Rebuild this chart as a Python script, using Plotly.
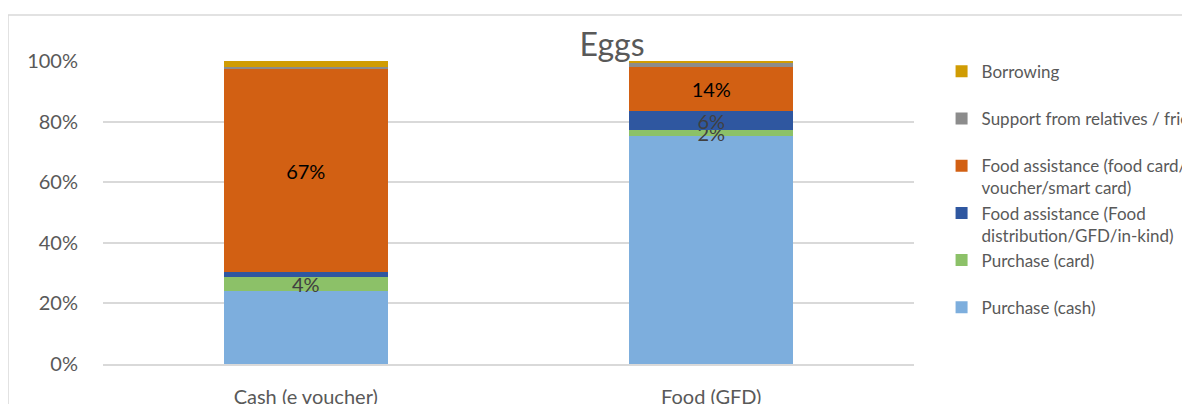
import plotly.graph_objects as go

# dados (fração de 0 a 1)
categorias = ["Cash (e voucher)", "Food (GFD)"]
series = [
    "Purchase (cash)",
    "Purchase (card)",
    "Food assistance (Food<br>distribution/GFD/in-kind)",
    "Food assistance (food card/e-<br>voucher/smart card)",
    "Support from relatives / friends",
    "Borrowing",
]
purchase_cash = [0.242, 0.753]
purchase_card = [0.044, 0.018]
food_distribution = [0.017, 0.064]
food_card = [0.671, 0.144]
support_relatives = [0.006, 0.013]
borrowing = [0.020, 0.008]
valores = [purchase_cash, purchase_card, food_distribution, food_card, support_relatives, borrowing]

# quais rótulos aparecem no gráfico
rotulos_visiveis = [
    [False, False],
    [True, True],
    [False, True],
    [True, True],
    [False, False],
    [False, False],
]

cores = ["#7DAEDD", "#8CC168", "#2F57A0", "#D26013", "#8C8C8C", "#D09C03"]
cores_texto = ["#404040", "#404040", "#404040", "#000000", "#404040", "#404040"]

fig = go.Figure()
for i, (nome, vals, vis, cor, cor_txt) in enumerate(zip(series, valores, rotulos_visiveis, cores, cores_texto)):
    textos = [f"{round(v * 100)}%" if s else "" for v, s in zip(vals, vis)]
    nome_legenda = nome if "<br>" in nome else nome + "<br> "
    fig.add_trace(go.Bar(
        x=categorias, y=vals, name=nome_legenda, legendgroup=f"g{i}",
        legendrank=len(series) - i,
        marker=dict(color=cor, line=dict(width=0)),
        text=textos, textposition="inside", insidetextanchor="middle",
        constraintext="none", cliponaxis=False,
        textfont=dict(size=20, color=cor_txt, family="Lato"),
        hoverinfo="skip",
    ))

# a página tem 8px de margem no body, por isso as margens descontam 8px
fig.update_layout(
    barmode="stack",
    bargap=0.595,
    width=1190, height=404,
    margin=dict(l=95, r=284, t=53, b=48, autoexpand=False),
    paper_bgcolor="white", plot_bgcolor="white",
    font=dict(family="Lato", color="#595959"),
    title=dict(text="Eggs", x=604 / 1190, xanchor="center", xref="container",
               y=1 - 37 / 404, yanchor="middle", yref="container",
               font=dict(size=32, color="#595959", family="Lato")),
    legend=dict(
        x=1.034, xanchor="left", y=1.024, yanchor="top",
        traceorder="grouped", valign="top", tracegroupgap=0,
        font=dict(size=17, color="#595959", family="Lato"),
        bgcolor="rgba(0,0,0,0)", maxheight=400,
    ),
    showlegend=True,
)
fig.update_yaxes(
    range=[0, 1], tickvals=[0, 0.2, 0.4, 0.6, 0.8, 1.0], tickformat=".0%",
    showgrid=True, gridcolor="#D9D9D9", gridwidth=1.5,
    zeroline=False, showline=False, ticks="",
    tickfont=dict(size=20, color="#595959", family="Lato"),
    ticklabelstandoff=24,
)
fig.update_xaxes(
    showgrid=False, showline=True, linecolor="#D9D9D9", linewidth=1.5,
    ticks="", tickfont=dict(size=20, color="#595959", family="Lato"),
    ticklabelstandoff=14,
)

# moldura da área do gráfico
fig.add_shape(type="rect", xref="paper", yref="paper",
              x0=(0 - 95) / 811, x1=2, y0=-1, y1=(356 - 7) / 303,
              line=dict(color="#D9D9D9", width=1.5), layer="below")

fig.write_html("out.html")
